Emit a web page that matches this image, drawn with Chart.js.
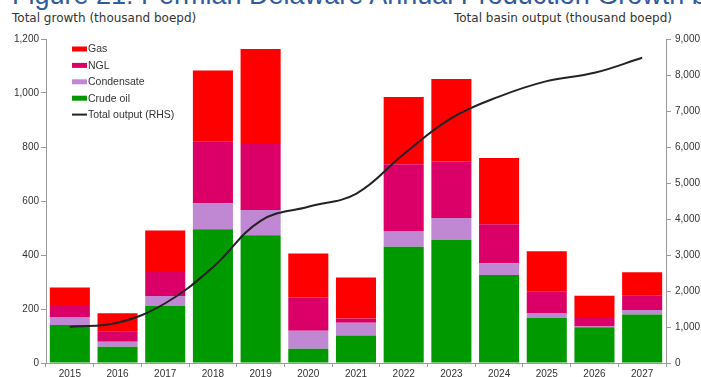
<!DOCTYPE html>
<html>
<head>
<meta charset="utf-8">
<script src="https://cdn.jsdelivr.net/npm/chart.js@4.4.1/dist/chart.umd.min.js"></script>
<style>
  html, body { margin: 0; padding: 0; background: #fff; }
  #wrap { position: relative; width: 701px; height: 377px; overflow: hidden; }
  #title {
    position: absolute; left: 12px; top: -18px; white-space: nowrap;
    font: 27px/27px "Liberation Sans", Arial, sans-serif; color: #2f5c9e;
  }
  .sub {
    position: absolute; top: 12px; white-space: nowrap;
    font: 12px/12px "DejaVu Sans", Verdana, sans-serif; color: #333;
  }
  #subLeft { left: 12px; }
  #subRight { right: 29px; }
  #chartBox { position: absolute; left: 0; top: 0; width: 701px; height: 377px; }
</style>
</head>
<body>
<div id="wrap">
  <div id="title">Figure 21: Permian Delaware Annual Production Growth by</div>
  <div class="sub" id="subLeft">Total growth (thousand boepd)</div>
  <div class="sub" id="subRight">Total basin output (thousand boepd)</div>
  <div id="chartBox"><canvas id="prodChart"></canvas></div>
</div>
<script>
const years = ['2015', '2016', '2017', '2018', '2019', '2020', '2021', '2022', '2023', '2024', '2025', '2026', '2027'];

// thousand boepd, growth by product (stacked, left axis)
const crudeOil   = [141, 60, 211, 495, 473, 53, 102, 431, 456, 326, 168, 132, 180];
const condensate = [29, 19, 37, 97, 94, 66, 47, 58, 81, 43, 15, 3, 16];
const ngl        = [45, 37, 93, 229, 248, 124, 16, 247, 209, 145, 81, 35, 53];
const gas        = [65, 68, 150, 262, 348, 163, 152, 249, 306, 245, 150, 79, 87];

// total basin output (right axis)
const totalOutput = [1000, 1120, 1660, 2660, 3950, 4340, 4700, 5800, 6800, 7400, 7830, 8060, 8480];

const legendItems = [
    { label: 'Gas', color: '#ff0000', type: 'box' },
    { label: 'NGL', color: '#da0068', type: 'box' },
    { label: 'Condensate', color: '#c088d2', type: 'box' },
    { label: 'Crude oil', color: '#009900', type: 'box' },
    { label: 'Total output (RHS)', color: '#222222', type: 'line' }
];

const tickFont = { family: '"Liberation Sans", Arial, sans-serif', size: 10 };
const axisGrey = '#9a9a9a';

// legend drawn inside the plot, top left
const insideLegend = {
    id: 'insideLegend',
    afterDraw(chart) {
        const c = chart.ctx;
        const x = 72, y0 = 49, step = 16.4;
        c.save();
        c.font = '10.5px "Liberation Sans", Arial, sans-serif';
        c.textBaseline = 'middle';
        legendItems.forEach((item, i) => {
            const y = y0 + i * step;
            if (item.type === 'box') {
                c.fillStyle = item.color;
                c.fillRect(x, y - 2.5, 15, 5);
            } else {
                c.strokeStyle = item.color;
                c.lineWidth = 2;
                c.beginPath();
                c.moveTo(x, y);
                c.lineTo(x + 15, y);
                c.stroke();
            }
            c.fillStyle = '#333';
            c.fillText(item.label, x + 16, y + 0.5);
        });
        c.restore();
    }
};

const barDefaults = { type: 'bar', yAxisID: 'y', stack: 'growth', order: 1, borderWidth: 0, barPercentage: 0.84, categoryPercentage: 1 };

new Chart(document.getElementById('prodChart'), {
    data: {
        labels: years,
        datasets: [
            { ...barDefaults, label: 'Crude oil', data: crudeOil, backgroundColor: '#009900' },
            { ...barDefaults, label: 'Condensate', data: condensate, backgroundColor: '#c088d2' },
            { ...barDefaults, label: 'NGL', data: ngl, backgroundColor: '#da0068' },
            { ...barDefaults, label: 'Gas', data: gas, backgroundColor: '#ff0000' },
            {
                type: 'line',
                label: 'Total output (RHS)',
                data: totalOutput,
                yAxisID: 'y2',
                order: 0,
                borderColor: '#222',
                borderWidth: 2,
                pointRadius: 0,
                tension: 0.4,
                fill: false
            }
        ]
    },
    options: {
        responsive: true,
        maintainAspectRatio: false,
        animation: false,
        layout: { padding: { top: 39, left: 0, right: 0, bottom: 0 } },
        plugins: {
            legend: { display: false },
            tooltip: { enabled: false }
        },
        scales: {
            x: {
                stacked: true,
                border: { color: axisGrey, width: 1 },
                grid: { display: true, drawOnChartArea: false, color: axisGrey, tickLength: 4, offset: true },
                ticks: { color: '#333', font: tickFont, padding: 1, maxRotation: 0 },
                afterFit(scale) { scale.height = 14; }
            },
            y: {
                position: 'left',
                stacked: true,
                min: 0,
                max: 1200,
                border: { color: axisGrey, width: 1 },
                grid: { display: true, drawOnChartArea: false, color: axisGrey, tickLength: 5 },
                ticks: {
                    stepSize: 200,
                    color: '#333',
                    font: tickFont,
                    padding: 2,
                    callback: v => v.toLocaleString('en-US')
                },
                afterFit(scale) { scale.width = 46; }
            },
            y2: {
                position: 'right',
                min: 0,
                max: 9000,
                border: { color: axisGrey, width: 1 },
                grid: { display: true, drawOnChartArea: false, color: axisGrey, tickLength: 5 },
                ticks: {
                    stepSize: 1000,
                    color: '#333',
                    font: tickFont,
                    padding: 4,
                    callback: v => v.toLocaleString('en-US')
                },
                afterFit(scale) { scale.width = 35; }
            }
        }
    },
    plugins: [insideLegend]
});
</script>
</body>
</html>
